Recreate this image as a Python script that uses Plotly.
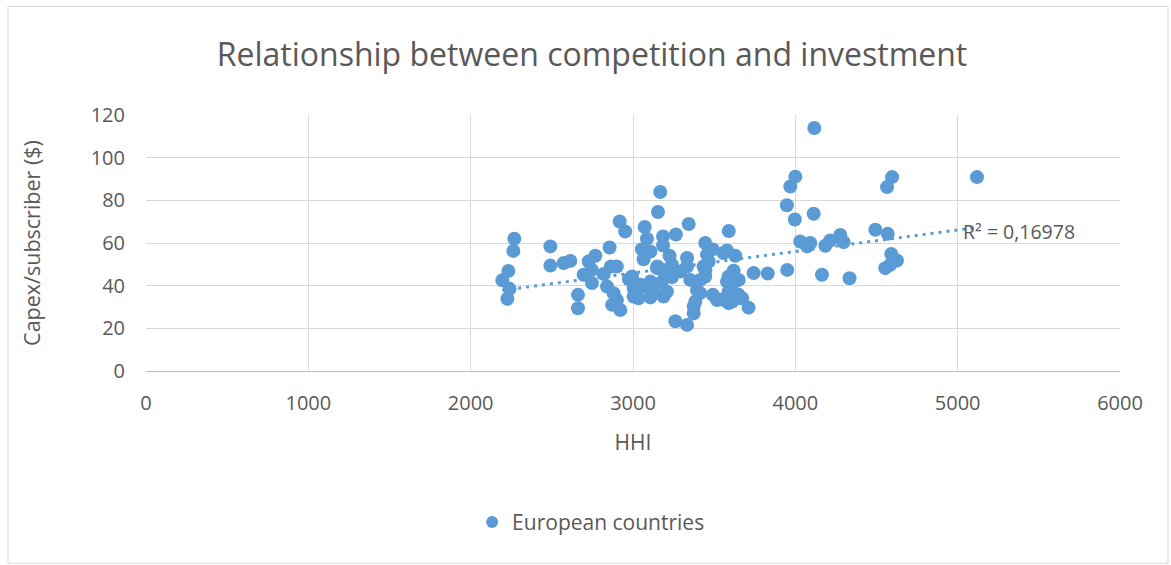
import numpy as np
import plotly.graph_objects as go

# Herfindahl-Hirschman index per market and capex per subscriber ($)
hhi = [
    2195, 2232, 2240, 2226, 2263, 2269,
    2491, 2491, 2573, 2614, 2661, 2661,
    2696, 2727, 2747, 2747, 2768, 2820, 2840, 2856, 2864, 2900, 2880,
    2871, 2901, 2922, 2918, 2952, 2975, 2994, 3004, 3004, 3025, 3034, 3045,
    3055, 3065, 3072, 3076, 3086, 3107, 3107, 3107, 3127, 3148, 3150,
    3154, 3168, 3179, 3185, 3185, 3188, 3188, 3199, 3209, 3225, 3240,
    3240, 3261, 3264, 3292,
    3333, 3333, 3343, 3333, 3353, 3374, 3374, 3384, 3394, 3414, 3414,
    3435, 3445, 3445, 3446, 3456, 3466, 3492, 3492, 3518, 3548,
    3558, 3569, 3579, 3579, 3590, 3589, 3589, 3589, 3600, 3610, 3620,
    3630, 3630, 3641, 3651, 3651, 3672, 3712, 3743, 3830, 3950,
    3948, 3969, 3997, 4000, 4030, 4072, 4092, 4113, 4117, 4164, 4185,
    4215, 4277, 4297, 4334, 4493, 4554, 4565, 4569, 4585, 4591, 4596,
    4626, 5119,
]
capex = [
    42.5, 46.9, 38.5, 33.9, 56.3, 62.0,
    58.4, 49.4, 50.6, 51.6, 35.7, 29.4,
    45.1, 51.3, 47.4, 41.2, 54.0, 45.5, 39.6, 57.9, 49.0, 49.0, 36.5,
    31.0, 33.3, 28.6, 70.1, 65.4, 43.0, 44.3, 34.9, 38.8, 40.4, 34.1, 40.4,
    57.1, 52.4, 67.5, 39.6, 62.0, 56.0, 34.5, 41.9, 38.8, 48.2, 49.0,
    74.5, 83.9, 41.9, 63.1, 58.8, 47.4, 34.9, 44.3, 37.2, 54.0, 44.0,
    49.8, 23.3, 64.0, 46.6,
    53.0, 21.6, 68.9, 49.0, 42.7, 27.0, 30.2, 32.5, 38.0, 36.5, 42.7,
    49.0, 44.3, 60.0, 47.4, 54.5, 51.3, 57.0, 35.7, 33.3, 33.5,
    55.3, 33.3, 56.5, 41.9, 65.6, 44.3, 37.2, 31.8, 40.4, 32.5, 47.0,
    54.0, 41.9, 34.1, 42.7, 35.7, 34.1, 29.7, 45.9, 45.7, 47.4,
    77.7, 86.5, 71.0, 91.1, 60.7, 58.4, 60.0, 73.7, 113.9, 45.1, 58.7,
    61.2, 63.8, 60.4, 43.5, 66.2, 48.2, 86.2, 64.3, 49.8, 54.9, 90.9,
    51.8, 90.9,
]

x_ticks = [0, 1000, 2000, 3000, 4000, 5000, 6000]
y_ticks = [0, 20, 40, 60, 80, 100, 120]

series_name = "European countries"
chart_title = "Relationship between competition and investment"
r2_label = "R² = 0,16978"

BLUE = "#5B9BD5"
TEXT = "#595959"
GRID = "#D9D9D9"
FONT = "Open Sans"

# linear trendline fitted on the data, spanning the observed HHI range
x_arr = np.array(hhi, dtype=float)
y_arr = np.array(capex, dtype=float)
slope, intercept = np.polyfit(x_arr, y_arr, 1)
trend_x = np.array([x_arr.min(), x_arr.max()])
trend_y = slope * trend_x + intercept

fig = go.Figure()
fig.add_trace(go.Scatter(
    x=hhi, y=capex, mode="markers", name=series_name,
    marker=dict(color=BLUE, size=14, line=dict(width=0)),
))
fig.add_trace(go.Scatter(
    x=trend_x, y=trend_y, mode="lines", showlegend=False,
    line=dict(color=BLUE, width=3, dash="3px,5px"),
    hoverinfo="skip",
))

fig.add_annotation(
    x=5020, y=65.4, xref="x", yref="y", text=r2_label, showarrow=False,
    xanchor="left", yanchor="middle",
    font=dict(family=FONT, size=19.5, color=TEXT),
)

# outer chart frame
fig.add_shape(
    type="rect", xref="paper", yref="paper", layer="below",
    x0=-138 / 974, x1=(1168 - 146) / 974,
    y0=(371 - 563) / 255.6, y1=(371 - 7) / 255.6,
    line=dict(color=GRID, width=1),
)

fig.update_layout(
    width=1171, height=565,
    margin=dict(l=146, r=51, t=115, b=194),
    paper_bgcolor="white", plot_bgcolor="white",
    font=dict(family=FONT, color=TEXT),
    title=dict(
        text=chart_title, x=592 / 1171, xanchor="center",
        y=1 - 55 / 565, yanchor="middle",
        font=dict(family=FONT, size=32, color=TEXT),
    ),
    showlegend=True,
    legend=dict(
        orientation="h", x=0.457, xanchor="center",
        y=(371 - 522) / 255.6, yanchor="middle",
        font=dict(family=FONT, size=21, color=TEXT),
        itemwidth=30, itemsizing="constant",
    ),
    xaxis=dict(
        range=[0, 6000], tickvals=x_ticks, ticktext=[str(v) for v in x_ticks],
        showgrid=True, gridcolor=GRID, gridwidth=1,
        showline=True, linecolor="#BFBFBF", linewidth=1,
        zeroline=False, ticks="", ticklabelstandoff=14,
        tickfont=dict(family=FONT, size=20, color=TEXT),
        title=dict(text="HHI", standoff=20,
                   font=dict(family=FONT, size=21, color=TEXT)),
    ),
    yaxis=dict(
        range=[0, 120], tickvals=y_ticks, ticktext=[str(v) for v in y_ticks],
        showgrid=True, gridcolor=GRID, gridwidth=1,
        showline=False, zeroline=False, ticks="", ticklabelstandoff=20,
        tickfont=dict(family=FONT, size=20, color=TEXT),
        title=dict(text="Capex/subscriber ($)", standoff=44,
                   font=dict(family=FONT, size=21.5, color=TEXT)),
    ),
)

fig.write_html("out.html")
